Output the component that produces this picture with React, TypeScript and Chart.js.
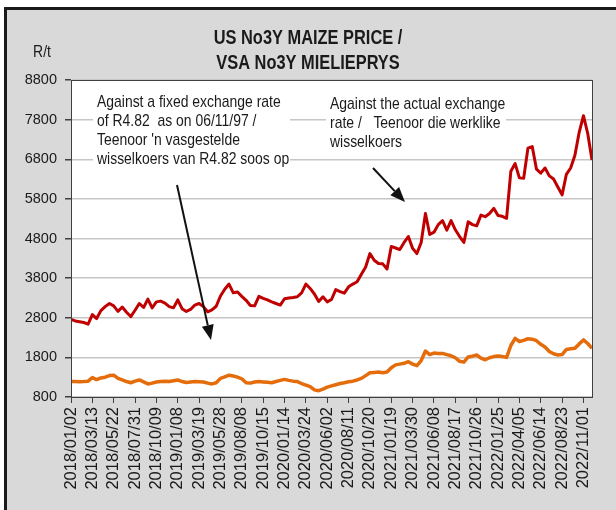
import React, { useEffect, useRef } from "react";
import { Chart, registerables } from "chart.js";

Chart.register(...registerables);

const FAMILY = "'Liberation Sans', Arial, sans-serif";
const NARROW = 0.82; // horizontal squeeze to imitate Arial Narrow

const titleLines = ["US No3Y MAIZE PRICE /", "VSA No3Y MIELIEPRYS"];
const yUnit = "R/t";

const xTickLabels = [
  "2018/01/02", "2018/03/13", "2018/05/22", "2018/07/31", "2018/10/09",
  "2019/01/08", "2019/03/19", "2019/05/28", "2019/08/08", "2019/10/15",
  "2020/01/14", "2020/03/24", "2020/06/02", "2020/08/11", "2020/10/20",
  "2021/01/19", "2021/03/30", "2021/06/08", "2021/08/17", "2021/10/26",
  "2022/01/25", "2022/04/05", "2022/06/14", "2022/08/23", "2022/11/01",
];
const POINTS_PER_TICK = 10;
const SAMPLE_STEP = 2;

// Price against the actual exchange rate (R/t), sampled every 2nd observation
const actualRate = [
  2760, 2720, 2700, 2680, 2640, 2880, 2780, 2980, 3080, 3160,
  3100, 2960, 3070, 2940, 2830, 2990, 3160, 3060, 3270, 3050,
  3200, 3220, 3170, 3080, 3050, 3250, 3030, 2960, 3010, 3120,
  3160, 3080, 2950, 3000, 3090, 3350, 3520, 3650, 3430, 3450,
  3340, 3240, 3110, 3100, 3340, 3290, 3250, 3200, 3160, 3120,
  3280, 3300, 3310, 3330, 3430, 3650, 3540, 3400, 3210, 3330,
  3200, 3260, 3510, 3460, 3420, 3580, 3650, 3710, 3900, 4080,
  4420, 4250, 4170, 4160, 4030, 4600, 4560, 4520, 4700, 4850,
  4550, 4420, 4700, 5430, 4900, 4960, 5150, 5250, 5010, 5250,
  5020, 4850, 4700, 5220, 5150, 5120, 5390, 5350, 5430, 5560,
  5380, 5360, 5310, 6500, 6690, 6330, 6320, 7080, 7120, 6550,
  6450, 6580, 6380, 6300, 6100, 5900, 6420, 6580, 6900, 7480,
  7900, 7450, 6780,
];

// Price against the fixed exchange rate of R4.82 (R/t)
const fixedRate = [
  1190, 1190, 1185, 1190, 1200, 1290, 1240, 1280, 1300, 1340,
  1350, 1270, 1230, 1190, 1160, 1200, 1230, 1180, 1130, 1150,
  1180, 1190, 1200, 1190, 1210, 1230, 1190, 1165, 1180, 1190,
  1185, 1180, 1150, 1130, 1160, 1270, 1310, 1350, 1330, 1300,
  1260, 1160, 1150, 1180, 1190, 1180, 1170, 1160, 1190, 1220,
  1245, 1220, 1200, 1190, 1140, 1100, 1060, 980, 960, 1000,
  1050, 1080, 1110, 1140, 1160, 1185, 1200, 1230, 1270, 1340,
  1410, 1420, 1430, 1410, 1430, 1540, 1610, 1630, 1650, 1690,
  1630, 1590, 1720, 1960, 1870, 1910, 1900, 1900, 1870, 1840,
  1790, 1700, 1680, 1810, 1830, 1860, 1780, 1740, 1790, 1820,
  1835, 1820, 1800, 2100, 2280, 2200, 2230, 2270, 2260, 2220,
  2130, 2060, 1950, 1890, 1860, 1870, 2000, 2020, 2030, 2140,
  2240, 2150, 2030,
];

const yMin = 800;
const yMax = 8800;
const yStep = 1000;

const noteFixed = [
  "Against a fixed exchange rate",
  "of R4.82  as on 06/11/97 /",
  "Teenoor 'n vasgestelde",
  "wisselkoers van R4.82 soos op",
];
const noteActual = [
  "Against the actual exchange",
  "rate /   Teenoor die werklike",
  "wisselkoers",
];

function narrowText(ctx: CanvasRenderingContext2D, text: string, x: number, y: number) {
  ctx.save();
  ctx.translate(x, y);
  ctx.scale(NARROW, 1);
  ctx.fillText(text, 0, 0);
  ctx.restore();
}

function drawArrow(ctx: CanvasRenderingContext2D, x1: number, y1: number, x2: number, y2: number) {
  const ang = Math.atan2(y2 - y1, x2 - x1);
  const len = 15;
  const half = 6;
  const bx = x2 - len * Math.cos(ang);
  const by = y2 - len * Math.sin(ang);
  ctx.save();
  ctx.strokeStyle = "#111";
  ctx.fillStyle = "#111";
  ctx.lineWidth = 2;
  ctx.beginPath();
  ctx.moveTo(x1, y1);
  ctx.lineTo(bx, by);
  ctx.stroke();
  ctx.beginPath();
  ctx.moveTo(x2, y2);
  ctx.lineTo(bx + half * Math.sin(ang), by - half * Math.cos(ang));
  ctx.lineTo(bx - half * Math.sin(ang), by + half * Math.cos(ang));
  ctx.closePath();
  ctx.fill();
  ctx.restore();
}

const decorPlugin = {
  id: "decor",
  beforeDraw(chart: any) {
    const { ctx, chartArea: a } = chart;
    ctx.save();
    ctx.fillStyle = "#ffffff";
    ctx.fillRect(a.left, a.top, a.right - a.left, a.bottom - a.top);
    ctx.restore();
  },
  afterDraw(chart: any) {
    const { ctx, chartArea: a } = chart;
    ctx.save();
    ctx.strokeStyle = "#404040";
    ctx.lineWidth = 1;
    ctx.strokeRect(Math.round(a.left) + 0.5, Math.round(a.top) + 0.5, Math.round(a.right - a.left), Math.round(a.bottom - a.top));

    ctx.fillStyle = "#1a1a1a";
    ctx.textAlign = "center";
    ctx.textBaseline = "middle";
    ctx.font = `bold 20px ${FAMILY}`;
    narrowText(ctx, titleLines[0], 308, 38);
    narrowText(ctx, titleLines[1], 308, 63);

    ctx.font = `17px ${FAMILY}`;
    narrowText(ctx, yUnit, 42, 52);

    ctx.fillStyle = "#ffffff";
    ctx.fillRect(93, 91, 197, 76);
    ctx.fillRect(326, 95, 180, 56);

    ctx.fillStyle = "#1a1a1a";
    ctx.textAlign = "left";
    ctx.font = `17px ${FAMILY}`;
    noteFixed.forEach((t, i) => narrowText(ctx, t, 97, 102 + i * 19));
    noteActual.forEach((t, i) => narrowText(ctx, t, 330, 104 + i * 19));
    ctx.restore();

    drawArrow(ctx, 177, 185, 211, 340);
    drawArrow(ctx, 373, 168, 405, 202);
  },
};

export default function App() {
  const ref = useRef<HTMLCanvasElement | null>(null);

  useEffect(() => {
    if (!ref.current) return;
    const toPoints = (arr: number[]) => arr.map((v, i) => ({ x: i * SAMPLE_STEP, y: v }));
    const xMax = (actualRate.length - 1) * SAMPLE_STEP;
    const chart = new Chart(ref.current, {
      type: "line",
      data: {
        datasets: [
          {
            label: "Actual exchange rate",
            data: toPoints(actualRate),
            borderColor: "#c00000",
            borderWidth: 3,
            pointRadius: 0,
            tension: 0,
            borderJoinStyle: "round",
          },
          {
            label: "Fixed exchange rate",
            data: toPoints(fixedRate),
            borderColor: "#e46c0a",
            borderWidth: 3.5,
            pointRadius: 0,
            tension: 0,
            borderJoinStyle: "round",
          },
        ],
      },
      options: {
        animation: false,
        responsive: false,
        maintainAspectRatio: false,
        events: [],
        layout: { padding: { top: 80, right: 24, left: 0, bottom: 0 } },
        plugins: { legend: { display: false }, tooltip: { enabled: false }, title: { display: false } },
        scales: {
          x: {
            type: "linear",
            min: 0,
            max: xMax,
            afterFit: (s: any) => { s.height = 113; },
            afterBuildTicks: (s: any) => {
              s.ticks = xTickLabels.map((_, i) => ({ value: i * POINTS_PER_TICK }));
            },
            ticks: {
              autoSkip: false,
              maxRotation: 90,
              minRotation: 90,
              padding: 4,
              color: "#1a1a1a",
              font: { family: FAMILY, size: 16.5 },
              callback: (v: any) => xTickLabels[Math.round(Number(v) / POINTS_PER_TICK)] ?? "",
            },
            grid: { drawOnChartArea: false, drawTicks: true, tickLength: 6, tickColor: "#404040" },
            border: { color: "#404040", width: 1 },
          },
          y: {
            min: yMin,
            max: yMax,
            afterFit: (s: any) => { s.width = 71; },
            ticks: {
              stepSize: yStep,
              padding: 8,
              color: "#1a1a1a",
              font: { family: FAMILY, size: 14.5 },
              callback: (v: any) => String(v),
            },
            grid: { color: "#c6c6c6", lineWidth: 1.5, tickLength: 6, tickColor: "#404040" },
            border: { color: "#404040", width: 1 },
          },
        },
      },
      plugins: [decorPlugin],
    } as any);
    return () => chart.destroy();
  }, []);

  return (
    <div style={{ position: "fixed", left: 0, top: 0, width: 616, height: 510, background: "#ffffff", overflow: "hidden" }}>
      <div
        style={{
          position: "absolute",
          left: 4,
          top: 7,
          width: 612,
          height: 503,
          boxSizing: "border-box",
          borderLeft: "3px solid #1a1a1a",
          borderTop: "3px solid #1a1a1a",
          background: "#d9d9d9",
        }}
      />
      <canvas ref={ref} width={616} height={510} style={{ position: "absolute", left: 0, top: 0, width: 616, height: 510 }} />
    </div>
  );
}
